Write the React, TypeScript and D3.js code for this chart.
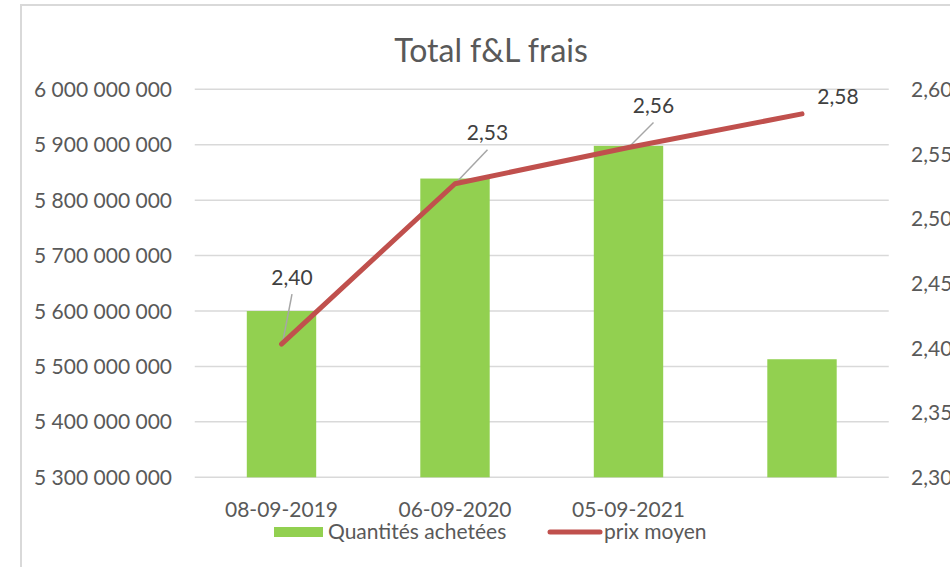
import React from "react";
import * as d3 from "d3";

const categories = ["08-09-2019", "06-09-2020", "05-09-2021", ""];
const quantites = [5600000000, 5839000000, 5898000000, 5513000000];
const prixMoyen = [2.403, 2.527, 2.555, 2.581];
const prixLabels = ["2,40", "2,53", "2,56", "2,58"];
const leftTicks = [5300000000, 5400000000, 5500000000, 5600000000, 5700000000, 5800000000, 5900000000, 6000000000];
const rightTicks = [2.3, 2.35, 2.4, 2.45, 2.5, 2.55, 2.6];
const seriesNames = ["Quantités achetées", "prix moyen"];
const title = "Total f&L frais";

// label placement offsets (style, not data)
const labelOffsets = [
  { dx: 10.5, dy: -67, leader: true },
  { dx: 32.5, dy: -51, leader: true },
  { dx: 25, dy: -42, leader: true },
  { dx: 36, dy: -17, leader: false },
];

const W = 950;
const H = 567;
const plot = { left: 194.75, right: 888.75, top: 89.3, bottom: 477.3 };
const FONT = "Lato, 'Open Sans', sans-serif";
const TEXT = "#595959";

const fmtLeft = (v: number) =>
  d3.format(",")(v).replace(/,/g, " ");
const fmtRight = (v: number) => d3.format(".2f")(v).replace(".", ",");

export default function App() {
  const x = d3
    .scaleBand<string>()
    .domain(categories.map((c, i) => String(i)))
    .range([plot.left, plot.right])
    .paddingInner(0.6)
    .paddingOuter(0.3);
  const yL = d3.scaleLinear().domain([5300000000, 6000000000]).range([plot.bottom, plot.top]);
  const yR = d3.scaleLinear().domain([2.3, 2.6]).range([plot.bottom, plot.top]);
  const cx = (i: number) => (x(String(i)) as number) + x.bandwidth() / 2;

  const line = d3
    .line<number>()
    .x((_, i) => cx(i))
    .y((d) => yR(d));

  return (
    <svg
      width={W}
      height={H}
      style={{ position: "absolute", left: 0, top: 0, background: "#fff" }}
      fontFamily={FONT}
    >
      <rect x={0} y={0} width={W} height={H} fill="#fff" />
      <rect x={21} y={5} width={1000} height={1000} fill="#fff" stroke="#d9d9d9" strokeWidth={2} />

      <text x={491} y={61.5} textAnchor="middle" fontSize={32} fill={TEXT}>
        {title}
      </text>

      {leftTicks.map((t) => (
        <line
          key={"g" + t}
          x1={plot.left}
          x2={plot.right}
          y1={yL(t)}
          y2={yL(t)}
          stroke="#d9d9d9"
          strokeWidth={1.5}
        />
      ))}

      {leftTicks.map((t) => (
        <text
          key={"l" + t}
          x={172}
          y={yL(t)}
          dy="0.36em"
          textAnchor="end"
          fontSize={21}
          fill={TEXT}
        >
          {fmtLeft(t)}
        </text>
      ))}

      {rightTicks.map((t) => (
        <text key={"r" + t} x={911} y={yR(t)} dy="0.36em" textAnchor="start" fontSize={21} fill={TEXT}>
          {fmtRight(t)}
        </text>
      ))}

      {quantites.map((v, i) => (
        <rect
          key={"b" + i}
          x={x(String(i))}
          y={yL(v)}
          width={x.bandwidth()}
          height={plot.bottom - yL(v)}
          fill="#92d050"
        />
      ))}

      {categories.map((c, i) => (
        <text key={"c" + i} x={cx(i)} y={516.5} textAnchor="middle" fontSize={21} fill={TEXT}>
          {c}
        </text>
      ))}

      {prixMoyen.map((v, i) => {
        const o = labelOffsets[i];
        if (!o.leader) return null;
        const px = cx(i);
        const py = yR(v);
        return (
          <line
            key={"ld" + i}
            x1={px + o.dx}
            y1={py + o.dy + 17}
            x2={px + 1}
            y2={py - 1}
            stroke="#a6a6a6"
            strokeWidth={1.5}
          />
        );
      })}

      <path
        d={line(prixMoyen) || ""}
        fill="none"
        stroke="#c0504d"
        strokeWidth={5}
        strokeLinecap="round"
        strokeLinejoin="round"
      />

      {prixMoyen.map((v, i) => {
        const o = labelOffsets[i];
        return (
          <text
            key={"pl" + i}
            x={cx(i) + o.dx}
            y={yR(v) + o.dy}
            dy="0.36em"
            textAnchor="middle"
            fontSize={21}
            fill="#404040"
          >
            {prixLabels[i]}
          </text>
        );
      })}

      {/* legend */}
      <rect x={274} y={527} width={49} height={10} fill="#92d050" />
      <text x={328} y={539} fontSize={21} fill={TEXT}>
        {seriesNames[0]}
      </text>
      <line x1={550} x2={600} y1={532} y2={532} stroke="#c0504d" strokeWidth={5} strokeLinecap="round" />
      <text x={604} y={539} fontSize={21} fill={TEXT}>
        {seriesNames[1]}
      </text>
    </svg>
  );
}
